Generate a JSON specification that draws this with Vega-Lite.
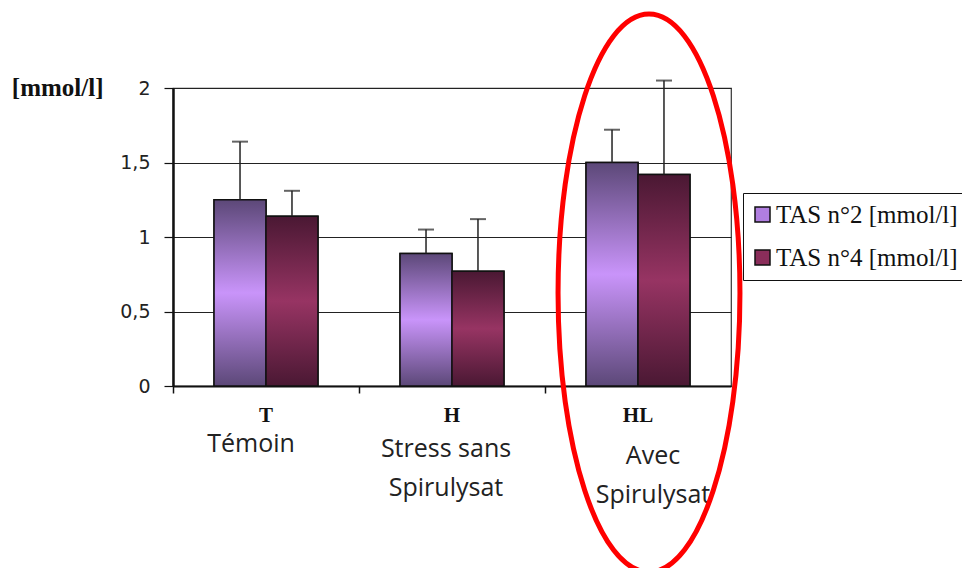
{
  "$schema": "https://vega.github.io/schema/vega-lite/v6.json",
  "width": 558,
  "height": 298,
  "autosize": "none",
  "padding": {"left": 173, "top": 88, "right": 231, "bottom": 182},
  "background": "white",
  "config": {
    "view": {"stroke": "#333", "strokeWidth": 1.2}
  },
  "datasets": {
    "bars": [
      {"group": "T", "series": "TAS n°2 [mmol/l]", "value": 1.25, "err": 1.64},
      {"group": "T", "series": "TAS n°4 [mmol/l]", "value": 1.14, "err": 1.31},
      {"group": "H", "series": "TAS n°2 [mmol/l]", "value": 0.89, "err": 1.05},
      {"group": "H", "series": "TAS n°4 [mmol/l]", "value": 0.77, "err": 1.12},
      {"group": "HL", "series": "TAS n°2 [mmol/l]", "value": 1.5, "err": 1.72},
      {"group": "HL", "series": "TAS n°4 [mmol/l]", "value": 1.42, "err": 2.05}
    ],
    "highlight": [
      {"group": "HL", "center": 0.624}
    ]
  },
  "resolve": {"axis": {"x": "independent", "y": "independent"}},
  "layer": [
    {
      "data": {"name": "bars"},
      "mark": {"type": "bar", "stroke": "#111", "strokeWidth": 1.5},
      "encoding": {
        "x": {
          "field": "group", "type": "nominal", "sort": ["T", "H", "HL"],
          "scale": {"paddingInner": 0, "paddingOuter": 0},
          "axis": {
            "orient": "bottom", "title": null, "labels": false,
            "bandPosition": 0, "ticks": true, "tickSize": 7, "tickColor": "#111", "tickWidth": 1.5,
            "domainColor": "#111", "domainWidth": 2, "grid": false
          }
        },
        "xOffset": {
          "field": "series", "type": "nominal",
          "scale": {"paddingInner": 0, "paddingOuter": 0.79}
        },
        "y": {
          "field": "value", "type": "quantitative",
          "scale": {"domain": [0, 2], "nice": false},
          "axis": {
            "orient": "left",
            "values": [0, 0.5, 1, 1.5, 2],
            "labelExpr": "replace(format(datum.value, '~g'), '.', ',')",
            "labelFont": "DejaVu Sans", "labelFontSize": 19, "labelColor": "#222",
            "labelPadding": 14,
            "tickSize": 9, "tickColor": "#111", "tickWidth": 1.2,
            "domainColor": "#111", "domainWidth": 2.5,
            "grid": true, "gridColor": "#222", "gridWidth": 1.2, "gridOpacity": 1,
            "title": "[mmol/l]", "titleAngle": 0, "titleFont": "Liberation Serif",
            "titleFontWeight": "bold", "titleFontSize": 25, "titleColor": "#111",
            "titleAlign": "right", "titleBaseline": "middle", "titleX": -70, "titleY": -1
          }
        },
        "color": {
          "field": "series", "type": "nominal",
          "scale": {
            "domain": ["TAS n°2 [mmol/l]", "TAS n°4 [mmol/l]"],
            "range": ["#b07ee0", "#8a2d5a"]
          },
          "legend": {
            "title": null, "orient": "none", "legendX": 570, "legendY": 105,
            "symbolType": "square", "symbolSize": 225, "symbolStrokeColor": "#111", "symbolStrokeWidth": 1.5,
            "symbolOpacity": 1, "symbolOffset": -2,
            "labelFont": "Liberation Serif", "labelFontSize": 25, "labelColor": "#111", "labelOffset": 1,
            "labelLimit": 400,
            "rowPadding": 17, "padding": 9,
            "strokeColor": "#111", "fillColor": "white"
          }
        }
      }
    },
    {
      "data": {"name": "bars"},
      "transform": [{"filter": "datum.series == 'TAS n°2 [mmol/l]'"}],
      "mark": {
        "type": "bar", "stroke": "#111", "strokeWidth": 1.5,
        "fill": {"gradient": "linear", "x1": 0, "y1": 0, "x2": 0, "y2": 1,
          "stops": [{"offset": 0, "color": "#5c4878"}, {"offset": 0.5, "color": "#c994fa"}, {"offset": 1, "color": "#5c4878"}]}
      },
      "encoding": {
        "x": {"field": "group", "type": "nominal", "sort": ["T", "H", "HL"], "axis": null},
        "xOffset": {"field": "series", "type": "nominal"},
        "y": {"field": "value", "type": "quantitative", "axis": null}
      }
    },
    {
      "data": {"name": "bars"},
      "transform": [{"filter": "datum.series == 'TAS n°4 [mmol/l]'"}],
      "mark": {
        "type": "bar", "stroke": "#111", "strokeWidth": 1.5,
        "fill": {"gradient": "linear", "x1": 0, "y1": 0, "x2": 0, "y2": 1,
          "stops": [{"offset": 0, "color": "#4a1833"}, {"offset": 0.5, "color": "#973463"}, {"offset": 1, "color": "#4a1833"}]}
      },
      "encoding": {
        "x": {"field": "group", "type": "nominal", "sort": ["T", "H", "HL"], "axis": null},
        "xOffset": {"field": "series", "type": "nominal"},
        "y": {"field": "value", "type": "quantitative", "axis": null}
      }
    },
    {
      "data": {"name": "bars"},
      "mark": {"type": "rule", "color": "#222", "strokeWidth": 1.5},
      "encoding": {
        "x": {
          "field": "group", "type": "nominal", "sort": ["T", "H", "HL"],
          "axis": {
            "orient": "bottom", "title": null, "domain": false, "ticks": false, "tickSize": 0, "grid": false,
            "labelAngle": 0, "labelFont": "Liberation Serif", "labelFontWeight": "bold", "labelFontSize": 21,
            "labelColor": "#111", "labelPadding": 18
          }
        },
        "xOffset": {"field": "series", "type": "nominal"},
        "y": {"field": "value", "type": "quantitative", "axis": null},
        "y2": {"field": "err"}
      }
    },
    {
      "data": {"name": "bars"},
      "mark": {"type": "tick", "color": "#222", "thickness": 2, "size": 16, "orient": "horizontal"},
      "encoding": {
        "x": {
          "field": "group", "type": "nominal", "sort": ["T", "H", "HL"],
          "axis": {
            "orient": "bottom", "title": null, "domain": false, "ticks": false, "tickSize": 0, "grid": false,
            "labelAngle": 0, "labelFont": "Open Sans", "labelFontSize": 25, "labelColor": "#222",
            "labelLineHeight": 39,
            "labelExpr": "datum.value == 'T' ? 'Témoin' : datum.value == 'H' ? ['Stress sans', 'Spirulysat'] : ['Avec', 'Spirulysat']",
            "labelPadding": {"expr": "datum.value == 'T' ? 45 : datum.value == 'H' ? 50 : 57"},
            "labelOffset": {"expr": "datum.value == 'T' ? -15 : datum.value == 'H' ? -6 : 15"}
          }
        },
        "xOffset": {"field": "series", "type": "nominal"},
        "y": {"field": "err", "type": "quantitative", "axis": null}
      }
    },
    {
      "data": {"name": "highlight"},
      "mark": {
        "type": "point", "filled": false, "stroke": "#ff0000", "strokeWidth": 5, "opacity": 1,
        "shape": "M 0 -1 A 0.326 1 0 1 1 0 1 A 0.326 1 0 1 1 0 -1 Z",
        "size": 311364, "xOffset": 11
      },
      "encoding": {
        "x": {"field": "group", "type": "nominal", "sort": ["T", "H", "HL"], "axis": null},
        "y": {"field": "center", "type": "quantitative", "axis": null}
      }
    }
  ]
}
